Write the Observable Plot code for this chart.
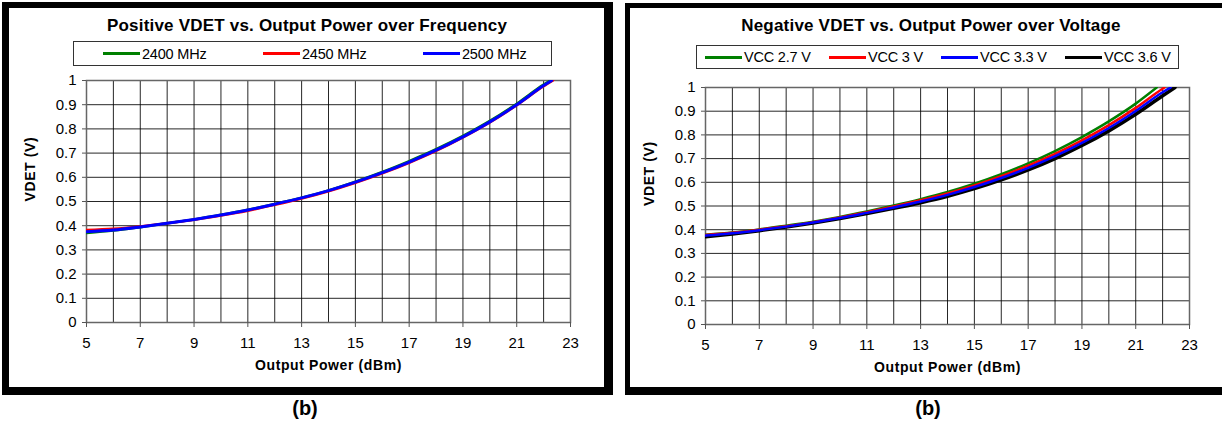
<!DOCTYPE html>
<html><head><meta charset="utf-8">
<script src="https://cdn.jsdelivr.net/npm/d3@7"></script>
<script src="https://cdn.jsdelivr.net/npm/@observablehq/plot@0.6"></script>
<style>
body{margin:0;background:#fff;}
#page{position:relative;width:1222px;height:426px;overflow:hidden;font-family:"Liberation Sans",Arial,sans-serif;color:#000;}
.panel{position:absolute;border-style:solid;border-color:#000;box-sizing:border-box;background:#fff;}
.title{position:absolute;font-weight:bold;font-size:17px;line-height:20px;white-space:nowrap;transform:translateX(-50%);letter-spacing:0.2px;}
.legend{position:absolute;border:1px solid #333;box-sizing:border-box;background:#fff;}
.item{position:absolute;top:0;height:100%;display:flex;align-items:center;font-size:14.5px;white-space:nowrap;letter-spacing:-0.2px;}
.item .sw{display:inline-block;width:37px;height:3px;margin-right:2px;}
.cap{position:absolute;font-weight:bold;font-size:20px;line-height:22px;transform:translateX(-50%);}
svg.p{position:absolute;}
</style></head><body><div id="page"></div>
<script>
// ---------- data ----------
const xGrid = [5,6,7,8,9,10,11,12,13,14,15,16,17,18,19,20,21,22,23];
const xTicks = [5,7,9,11,13,15,17,19,21,23];
const yTicks = [0,0.1,0.2,0.3,0.4,0.5,0.6,0.7,0.8,0.9,1];
const xTitle = "Output Power (dBm)";
const yTitle = "VDET (V)";
const leftTitle = "Positive VDET vs. Output Power over Frequency";
const rightTitle = "Negative VDET vs. Output Power over Voltage";
const caption = "(b)";

// Positive VDET (frequency)
const freqNames = ["2400 MHz","2450 MHz","2500 MHz"];
const pw2400 = [5,6,7,8,9,10,11,12,13,14,15,16,17,18,19,20,21,22,22.25];
const vd2400 = [0.370,0.380,0.394,0.410,0.426,0.445,0.466,0.490,0.516,0.546,0.582,0.622,0.667,0.716,0.771,0.833,0.904,0.983,1.0];
const pw2450 = [5,6,7,8,9,10,11,12,13,14,15,16,17,18,19,20,21,22,22.35];
const vd2450 = [0.382,0.387,0.397,0.410,0.425,0.442,0.462,0.486,0.512,0.542,0.577,0.616,0.660,0.709,0.765,0.827,0.898,0.976,1.0];
const pw2500 = [5,6,7,8,9,10,11,12,13,14,15,16,17,18,19,20,21,22,22.3];
const vd2500 = [0.375,0.382,0.395,0.410,0.426,0.444,0.465,0.489,0.515,0.545,0.580,0.619,0.663,0.712,0.767,0.829,0.900,0.979,1.0];

// Negative VDET (voltage)
const vccNames = ["VCC 2.7 V","VCC 3 V","VCC 3.3 V","VCC 3.6 V"];
const pw27 = [5,6,7,8,9,10,11,12,13,14,15,16,17,18,19,20,21,21.78];
const vd27 = [0.379,0.388,0.401,0.417,0.434,0.454,0.477,0.502,0.529,0.559,0.594,0.634,0.680,0.732,0.791,0.857,0.932,1.0];
const pw30 = [5,6,7,8,9,10,11,12,13,14,15,16,17,18,19,20,21,22,22.07];
const vd30 = [0.378,0.387,0.400,0.415,0.432,0.452,0.474,0.498,0.524,0.553,0.587,0.626,0.670,0.720,0.777,0.841,0.914,0.995,1.0];
const pw33 = [5,6,7,8,9,10,11,12,13,14,15,16,17,18,19,20,21,22,22.3];
const vd33 = [0.375,0.385,0.398,0.413,0.430,0.449,0.471,0.494,0.519,0.547,0.580,0.618,0.661,0.710,0.766,0.829,0.901,0.980,1.0];
const pw36 = [5,6,7,8,9,10,11,12,13,14,15,16,17,18,19,20,21,22,22.46];
const vd36 = [0.370,0.382,0.396,0.411,0.428,0.447,0.468,0.490,0.514,0.541,0.573,0.610,0.652,0.700,0.755,0.817,0.887,0.965,1.0];

const rows = (xs, ys) => xs.map((x, i) => ({x, y: ys[i]}));

// ---------- layout ----------
const page = document.getElementById("page");
function el(cls, css, html) {
  const d = document.createElement("div");
  d.className = cls;
  Object.assign(d.style, css);
  if (html != null) d.innerHTML = html;
  page.appendChild(d);
  return d;
}

// panels
el("panel", {left:"2px", top:"2px", width:"611px", height:"393px", borderWidth:"6px 9px 8px 7px"});
el("panel", {left:"625px", top:"3px", width:"620px", height:"392px", borderWidth:"5px 9px 8px 5px"});

// titles
el("title", {left:"307px", top:"16px"}, leftTitle);
el("title", {left:"931px", top:"16px"}, rightTitle);

// legends
function legend(box, names, colors, offsets) {
  const lg = el("legend", box);
  names.forEach((n, i) => {
    const it = document.createElement("div");
    it.className = "item";
    it.style.left = offsets[i] + "px";
    it.innerHTML = `<span class="sw" style="background:${colors[i]}"></span><span>${n}</span>`;
    lg.appendChild(it);
  });
}
legend({left:"73px", top:"41px", width:"479px", height:"25px"}, freqNames, ["#008000","#ff0000","#0000ff"], [29,189,349]);
legend({left:"696px", top:"45px", width:"483px", height:"24px"}, vccNames, ["#008000","#ff0000","#0000ff","#000000"], [8,132,244,368]);

// captions
el("cap", {left:"305px", top:"397px"}, caption);
el("cap", {left:"928px", top:"397px"}, caption);

// ---------- charts ----------
function chart({lines, width, height, ml, mr, mt, mb, left, top}) {
  const svg = Plot.plot({
    width, height, marginLeft: ml, marginRight: mr, marginTop: mt, marginBottom: mb,
    style: {fontFamily: '"Liberation Sans", Arial, sans-serif', fontSize: "15px", color: "#000", background: "transparent", overflow: "visible"},
    x: {domain: [5, 23]},
    y: {domain: [0, 1]},
    marks: [
      Plot.gridX(xGrid, {stroke: "#000", strokeOpacity: 0.85, strokeWidth: 1}),
      Plot.gridY(yTicks, {stroke: "#000", strokeOpacity: 0.85, strokeWidth: 1}),
      Plot.frame({stroke: "#666", strokeWidth: 1.5}),
      Plot.axisX(xTicks, {tickSize: 5, tickPadding: 10, label: null, tickFormat: d => String(d), stroke: "#555"}),
      Plot.axisY(yTicks, {tickSize: 4, tickPadding: 6, label: null, tickFormat: d => String(d), stroke: "#555"}),
      ...lines.map(s => Plot.line(rows(s.x, s.y), {x: "x", y: "y", stroke: s.color, strokeWidth: s.w, curve: "monotone-x", clip: true})),
      Plot.text([xTitle], {frameAnchor: "bottom", dy: 43, text: d => d, fontWeight: "bold", fontSize: 14, lineAnchor: "middle"}),
      Plot.text([yTitle], {frameAnchor: "left", dx: -56, rotate: -90, text: d => d, fontWeight: "bold", fontSize: 14, lineAnchor: "middle"})
    ]
  });
  svg.classList.add("p");
  svg.style.left = left + "px";
  svg.style.top = top + "px";
  page.appendChild(svg);
  d3.select(svg).selectAll("text").filter(function() { return this.textContent === xTitle || this.textContent === yTitle; })
    .style("letter-spacing", "0.6px");
  return svg;
}

chart({
  left: 10, top: 70, width: 590, height: 315, ml: 76, mr: 30, mt: 10, mb: 63,
  lines: [
    {x: pw2400, y: vd2400, color: "#008000", w: 2.5},
    {x: pw2450, y: vd2450, color: "#ff0000", w: 2.5},
    {x: pw2500, y: vd2500, color: "#0000ff", w: 3}
  ]
});

chart({
  left: 632, top: 75, width: 585, height: 310, ml: 73, mr: 28, mt: 12, mb: 61,
  lines: [
    {x: pw36, y: vd36, color: "#000000", w: 3.5},
    {x: pw27, y: vd27, color: "#008000", w: 2.5},
    {x: pw30, y: vd30, color: "#ff0000", w: 2.5},
    {x: pw33, y: vd33, color: "#0000ff", w: 2.5}
  ]
});
</script></body></html>
